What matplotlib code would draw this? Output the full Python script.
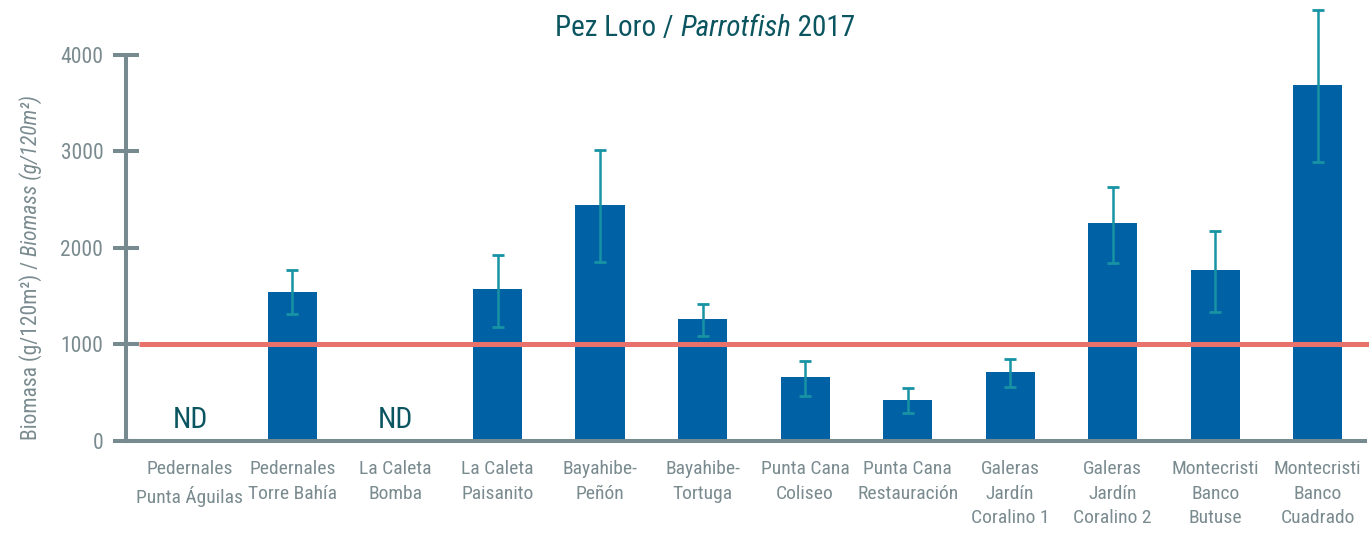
import numpy as np
import matplotlib
matplotlib.use('Agg')
import matplotlib.pyplot as plt
from matplotlib import font_manager as fm

sites=['Pedernales\nPunta Águilas','Pedernales\nTorre Bahía','La Caleta\nBomba','La Caleta\nPaisanito',
       'Bayahibe-\nPeñón','Bayahibe-\nTortuga','Punta Cana\nColiseo','Punta Cana\nRestauración',
       'Galeras\nJardín\nCoralino 1','Galeras\nJardín\nCoralino 2','Montecristi\nBanco\nButuse','Montecristi\nBanco\nCuadrado']
biomass=[np.nan,1541,np.nan,1572,2441,1262,662,424,713,2254,1768,3692]
err_hi=[np.nan,1776,np.nan,1927,3013,1424,830,551,845,2634,2179,4463]
err_lo=[np.nan,1317,np.nan,1179,1851,1086,465,293,558,1848,1334,2888]
nd_sites=[0,2]
reference=1000
yticks=[0,1000,2000,3000,4000]

# pick a narrow font if one is around
names={f.name for f in fm.fontManager.ttflist}
cands=['Liberation Sans Narrow','Roboto Condensed','Open Sans Condensed','Noto Sans Condensed','DejaVu Sans Condensed']
narrow=[c for c in cands if c in names]
stretch='normal'
if not narrow:
    cond=[f.name for f in fm.fontManager.ttflist if str(f.stretch) in ('condensed','semi-condensed','extra-condensed')]
    if cond:
        narrow=[cond[0]]
        stretch='condensed'
fam=narrow[:1]+['DejaVu Sans']
plt.rcParams['font.family']=fam
plt.rcParams['font.stretch']=stretch
scale=1.0 if narrow else 0.8

grey='#768a90'
lab='#7a8b90'
teal_dark='#0b5560'
bar_c='#0061a4'
err_c='#1793a4'
red='#e8716b'

fig=plt.figure(figsize=(13.69,5.33),dpi=100)
ax=fig.add_axes([126/1369,1-441/533,1-126/1369,436/533])
x=np.arange(len(sites))
b=np.array(biomass,dtype=float)
hi=np.array(err_hi,dtype=float)
lo=np.array(err_lo,dtype=float)
ok=~np.isnan(b)
ax.bar(x[ok],b[ok],width=0.48,color=bar_c,zorder=2)
ax.plot([-0.5,11.5],[reference,reference],color=red,lw=3.6,zorder=3,solid_capstyle='butt',clip_on=False)
ax.errorbar(x[ok],b[ok],yerr=[b[ok]-lo[ok],hi[ok]-b[ok]],fmt='none',ecolor=err_c,elinewidth=1.8,capsize=4.3,capthick=2,zorder=4,clip_on=False)
for i in nd_sites:
    ax.text(x[i],135,'ND',ha='center',va='baseline',fontsize=21.5*scale,color=teal_dark)

ax.set_xlim(-0.624,11.5)
ax.set_ylim(0,4518)
for s in ['top','right']:
    ax.spines[s].set_visible(False)
for s in ['left','bottom']:
    ax.spines[s].set_color(grey)
    ax.spines[s].set_linewidth(2.9)
ax.spines['left'].set_bounds(0,4000)
ax.spines['bottom'].set_bounds(-0.624,11.46)
ax.set_yticks(yticks)
ax.set_yticklabels([str(v) for v in yticks])
ax.tick_params(axis='y',direction='inout',length=18.7,width=2.9,color=grey,labelcolor=lab,labelsize=15.5*scale,pad=7)
ax.set_xticks(x)
ax.set_xticklabels(sites,linespacing=1.45)
ax.tick_params(axis='x',length=0,labelcolor=lab,labelsize=14*scale,pad=14)

# title with italic part
t1=fig.text(555/1369,1-28/533,'Pez Loro / ',ha='left',va='center',fontsize=21*scale,color=teal_dark)
t2=ax.annotate('Parrotfish',xy=(1,0),xycoords=t1,ha='left',va='bottom',fontsize=21*scale,color=teal_dark,style='italic')
ax.annotate(' 2017',xy=(1,0),xycoords=t2,ha='left',va='bottom',fontsize=21*scale,color=teal_dark)

# y label with italic part
y1=fig.text(31/1369,1-440/533,'Biomasa (g/120m²) / ',rotation=90,ha='center',va='bottom',fontsize=15.5*scale,color=lab)
ax.annotate('Biomass (g/120m²)',xy=(0.5,1),xycoords=y1,rotation=90,ha='center',va='bottom',fontsize=15.5*scale,color=lab,style='italic')

fig.savefig('out.png',dpi=100)
